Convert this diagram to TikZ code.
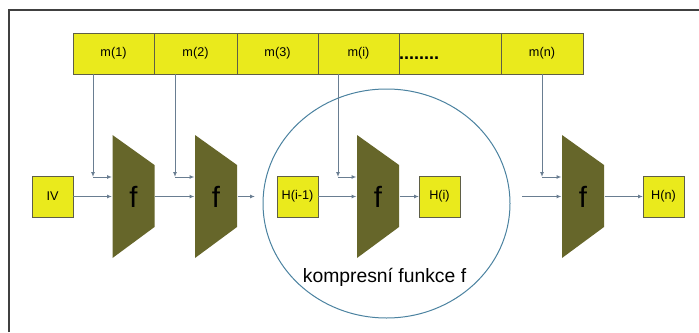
\documentclass[tikz,border=0pt]{standalone}
\usepackage{fontspec}
\setmainfont{Liberation Sans}
\usetikzlibrary{positioning,arrows.meta,shapes.geometric}
\tikzset{every picture/.style={line width=0.75pt}}
\definecolor{cellyellow}{RGB}{234,234,28}
\definecolor{folive}{RGB}{102,102,42}
\definecolor{edgegray}{RGB}{95,95,70}
\definecolor{linegray}{RGB}{105,125,145}
\definecolor{circblue}{RGB}{75,130,160}
\tikzset{
  cell/.style={draw=edgegray, fill=cellyellow, minimum height=30.75pt, inner sep=0pt, outer sep=0pt,
    font=\fontsize{9.5}{11}\selectfont},
  hbox/.style={cell, minimum width=30.75pt},
  fblock/.style={minimum width=31.5pt, minimum height=92.25pt, inner sep=0pt, font=\fontsize{22}{24}\selectfont,
    path picture={\fill[folive] (path picture bounding box.north west)
      -- ([yshift=-22.5pt]path picture bounding box.north east)
      -- ([yshift=23.25pt]path picture bounding box.south east)
      -- (path picture bounding box.south west) -- cycle;}},
  conn/.style={draw=linegray, -{Latex[length=3.75pt,width=3pt]}},
}

\begin{document}
\begin{tikzpicture}[x=0.75pt, y=-0.75pt]
  \useasboundingbox (0,0) rectangle (699,332);
  \draw[black!75, line width=1.1pt] (9,332) -- (9,10) -- (699,10);
  % message blocks
  \node[cell, minimum width=60.75pt, anchor=west] (m1) at (73,53.5) {m(1)};
  \node[cell, minimum width=62.25pt, right=0pt of m1] (m2) {m(2)};
  \node[cell, minimum width=60.75pt, right=0pt of m2] (m3) {m(3)};
  \node[cell, minimum width=60.75pt, right=0pt of m3] (mi) {m(i)};
  \node[cell, minimum width=76.5pt, text width=76.5pt, align=left, text height=9pt, text depth=0pt,
    right=0pt of mi] (mdots) {\fontsize{13.5}{14}\selectfont\textbf{........}};
  \node[cell, minimum width=61.5pt, right=0pt of mdots] (mn) {m(n)};
  % compression function
  \node[draw=circblue, ellipse, minimum width=185.25pt, minimum height=171.75pt, inner sep=0pt] (comp) at (386.5,203.5) {};
  \node[font=\fontsize{14.5}{16}\selectfont] (complbl) at (384.5,277) {kompresní funkce f};
  % chain
  \node[hbox] (iv) at (52.5,196.5) {IV};
  \node[fblock] (f1) at (133.5,196.5) {f};
  \node[fblock] (f2) at (216,196.5) {f};
  \node[hbox] (hprev) at (297.5,196.5) {H(i-1)};
  \node[fblock] (f3) at (378,196.5) {f};
  \node[hbox] (hi) at (439.5,196.5) {H(i)};
  \node[fblock] (f4) at (583,196.5) {f};
  \node[hbox] (hn) at (663.5,196.5) {H(n)};
  \coordinate (out2) at (255,196.5);
  \coordinate (in4) at (522,196.5);
  \draw[conn] (iv) -- (f1);
  \draw[conn] (f1) -- (f2);
  \draw[conn] (f2.east) -- (out2);
  \draw[conn] (hprev) -- (f3);
  \draw[conn] (f3) -- (hi);
  \draw[conn] (in4) -- (f4.west);
  \draw[conn] (f4) -- (hn);
  % message inputs
  \coordinate (k1) at (93,177);
  \coordinate (k2) at (175,177);
  \coordinate (k3) at (338,177);
  \coordinate (k4) at (542,177);
  \foreach \m/\k/\f in {m1/k1/f1, m2/k2/f2, mi/k3/f3, mn/k4/f4} {
    \draw[conn] (\m.south -| \k) -- (\k);
    \draw[conn] (\k) -- (\k -| \f.west);
  }
\end{tikzpicture}
\end{document}
